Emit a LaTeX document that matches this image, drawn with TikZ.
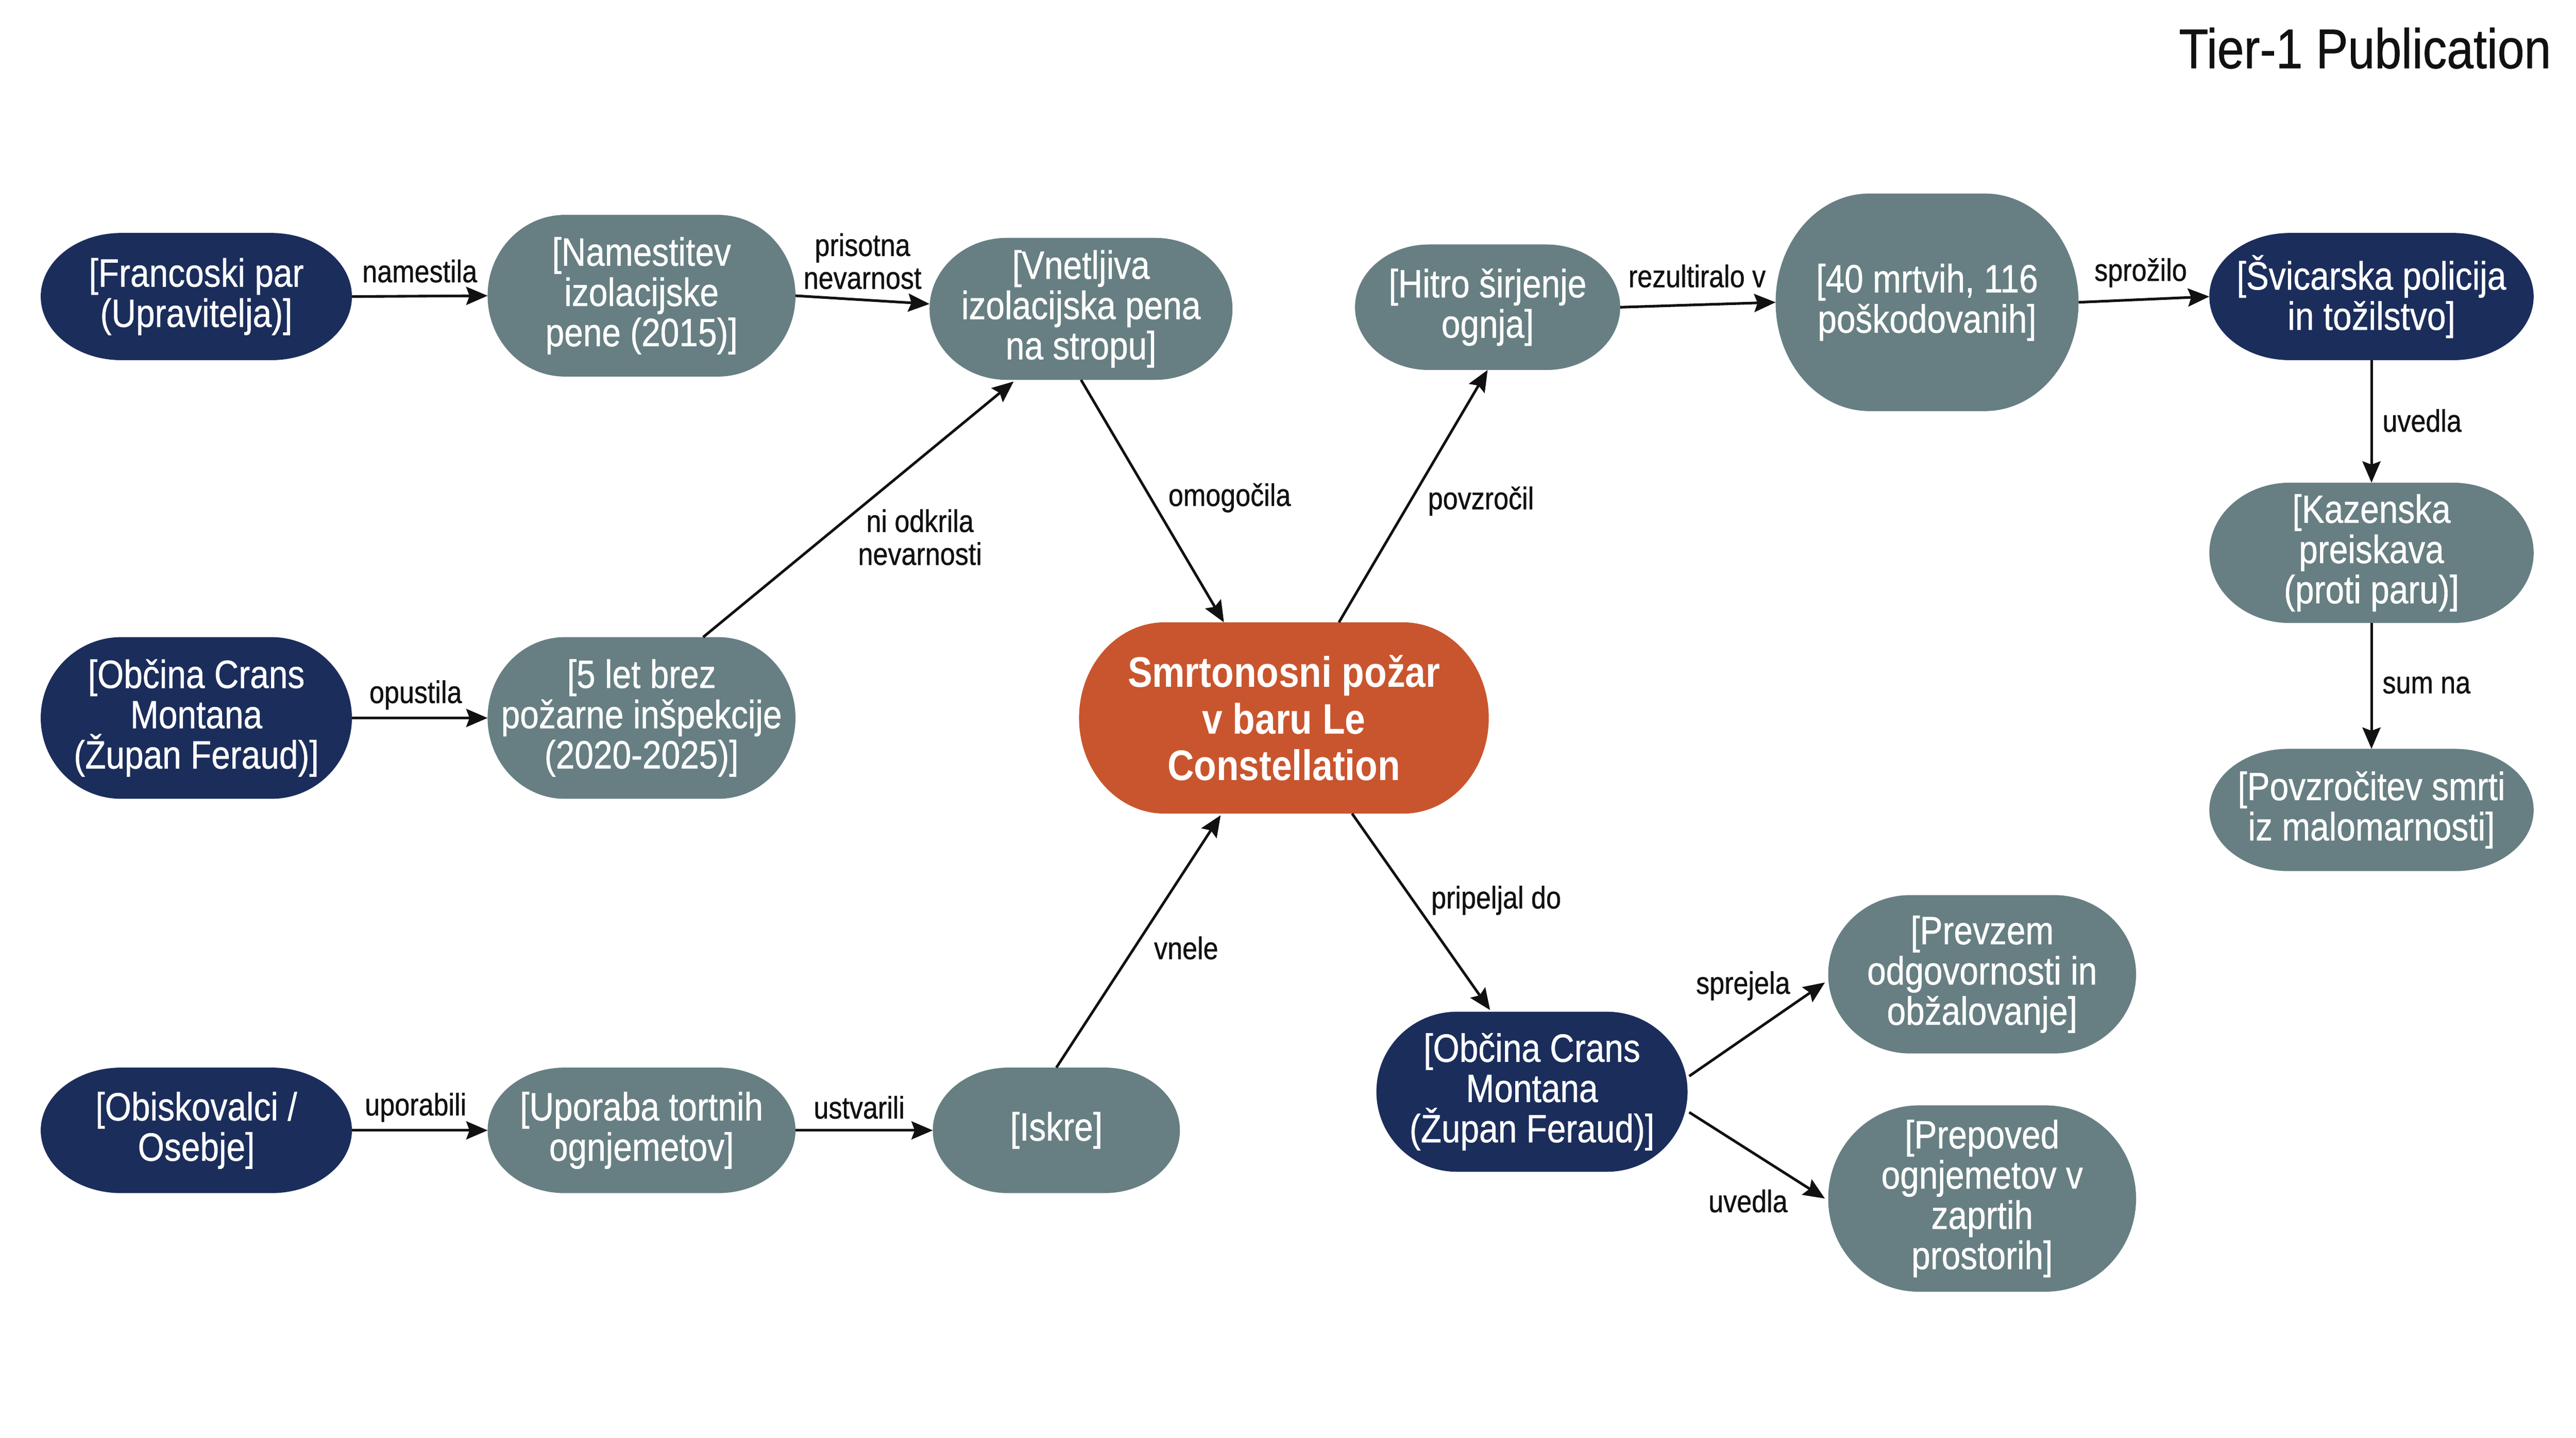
\documentclass[tikz,border=0pt]{standalone}
\usepackage{fontspec}
\setmainfont{Liberation Sans}[FakeStretch=0.86]
\newfontfamily\medfont{Liberation Sans}[FakeStretch=0.86, FakeBold=0.7]
\usetikzlibrary{arrows.meta,calc,backgrounds}
\definecolor{navy}{HTML}{1B2D5B}
\definecolor{slate}{HTML}{677F82}
\definecolor{fire}{HTML}{C9552E}
\definecolor{ink}{HTML}{111111}
\newcommand\blobfill[3]{%
\fill[#2] let \p1=(#1.north west), \p2=(#1.south east) in
 (\x1+#3,\y1) -- (\x2-#3,\y1)
 .. controls (\x2-0.448*#3,\y1) and (\x2,0.77615*\y1+0.22385*\y2) .. (\x2,0.5*\y1+0.5*\y2)
 .. controls (\x2,0.22385*\y1+0.77615*\y2) and (\x2-0.448*#3,\y2) .. (\x2-#3,\y2)
 -- (\x1+#3,\y2)
 .. controls (\x1+0.448*#3,\y2) and (\x1,0.22385*\y1+0.77615*\y2) .. (\x1,0.5*\y1+0.5*\y2)
 .. controls (\x1,0.77615*\y1+0.22385*\y2) and (\x1+0.448*#3,\y1) .. (\x1+#3,\y1) -- cycle;}
\tikzset{
  nd/.style 2 args={inner sep=0pt, align=center, text=white,
    font=\medfont\fontsize{24}{24.5}\selectfont, minimum width=#1, minimum height=#2},
  lbl/.style={inner sep=0pt, align=center, text=ink, font=\medfont\fontsize{19}{20}\selectfont},
  arr/.style={-{Stealth[length=13pt,width=11pt,inset=2pt]}, line width=1.6pt, draw=ink},
}
\begin{document}
\begin{tikzpicture}[x=1pt,y=-1pt]
\useasboundingbox (0,0) rectangle (1568,875.2);
% nodes
\node[nd={189pt}{77pt}] (fr) at (119.5,180.5) {[Francoski par\\(Upravitelja)]};
\node[nd={187pt}{98pt}] (nam) at (390.5,180) {[Namestitev\\izolacijske\\pene (2015)]};
\node[nd={184pt}{86pt}] (vn) at (658,188) {[Vnetljiva\\izolacijska pena\\na stropu]};
\node[nd={189pt}{98pt}] (ob1) at (119.5,437) {[Občina Crans\\Montana\\(Župan Feraud)]};
\node[nd={187pt}{98pt}] (pet) at (390.5,437) {[5 let brez\\požarne inšpekcije\\(2020-2025)]};
\node[nd={249pt}{116pt}, font=\bfseries\fontsize{26}{28.5}\selectfont] (cen) at (781.5,437) {Smrtonosni požar\\v baru Le\\Constellation};
\node[nd={189pt}{76pt}] (obi) at (119.5,688) {[Obiskovalci /\\Osebje]};
\node[nd={187pt}{76pt}] (upo) at (390.5,688) {[Uporaba tortnih\\ognjemetov]};
\node[nd={150pt}{76pt}] (isk) at (643,688) {[Iskre]};
\node[nd={161pt}{76pt}] (hit) at (905.5,187) {[Hitro širjenje\\ognja]};
\node[nd={184pt}{132pt}] (mrt) at (1173,184) {[40 mrtvih, 116\\poškodovanih]};
\node[nd={197pt}{77pt}] (svi) at (1443.5,180.5) {[Švicarska policija\\in tožilstvo]};
\node[nd={197pt}{85pt}] (kaz) at (1443.5,336.5) {[Kazenska\\preiskava\\(proti paru)]};
\node[nd={197pt}{74pt}] (pov) at (1443.5,493) {[Povzročitev smrti\\iz malomarnosti]};
\node[nd={189pt}{97pt}] (ob2) at (932.5,664.5) {[Občina Crans\\Montana\\(Župan Feraud)]};
\node[nd={187pt}{96pt}] (pre) at (1206.5,593) {[Prevzem\\odgovornosti in\\obžalovanje]};
\node[nd={187pt}{113pt}] (prp) at (1206.5,729.5) {[Prepoved\\ognjemetov v\\zaprtih\\prostorih]};
% title
\node[inner sep=0pt, anchor=base east, text=ink, font=\medfont\fontsize{34}{40}\selectfont] (title) at (1553,41.5) {Tier-1 Publication};
% shapes
\begin{scope}[on background layer]
\fill[white] (0,0) rectangle (1568,875.2);
\blobfill{fr}{navy}{49pt}
\blobfill{nam}{slate}{47pt}
\blobfill{vn}{slate}{47pt}
\blobfill{ob1}{navy}{49pt}
\blobfill{pet}{slate}{47pt}
\blobfill{cen}{fire}{52pt}
\blobfill{obi}{navy}{49pt}
\blobfill{upo}{slate}{47pt}
\blobfill{isk}{slate}{46pt}
\blobfill{hit}{slate}{45pt}
\blobfill{mrt}{slate}{57pt}
\blobfill{svi}{navy}{49pt}
\blobfill{kaz}{slate}{49pt}
\blobfill{pov}{slate}{48pt}
\blobfill{ob2}{navy}{49pt}
\blobfill{pre}{slate}{50pt}
\blobfill{prp}{slate}{55pt}
\end{scope}
% connectors
\draw[arr] (fr.east) -- (nam.west);
\draw[arr] (nam.east) -- ($(vn.west)+(0,-3)$);
\draw[arr] ($(pet.north)+(37.5,0)$) -- ($(vn.south)+(-41,1)$);
\draw[arr] (ob1.east) -- (pet.west);
\draw[arr] (vn.south) -- ($(cen.north)+(-36.5,0)$);
\draw[arr] (obi.east) -- (upo.west);
\draw[arr] (upo.east) -- (isk.west);
\draw[arr] (isk.north) -- ($(cen.south)+(-38.5,1)$);
\draw[arr] ($(cen.north)+(33.5,0)$) -- (hit.south);
\draw[arr] (hit.east) -- (mrt.west);
\draw[arr] (mrt.east) -- (svi.west);
\draw[arr] (svi.south) -- (kaz.north);
\draw[arr] (kaz.south) -- (pov.north);
\draw[arr] ($(cen.south)+(41.5,0)$) -- ($(ob2.north)+(-25.5,-1)$);
\draw[arr] ($(ob2.east)+(1,-9.5)$) -- ($(pre.west)+(-2,5)$);
\draw[arr] ($(ob2.east)+(1,12.5)$) -- ($(prp.west)+(-2,0)$);
% labels
\node[lbl] (l1) at (255.5,165) {namestila};
\node[lbl] (l2) at (525,159) {prisotna\\nevarnost};
\node[lbl] (l3) at (560,327) {ni odkrila\\nevarnosti};
\node[lbl] (l4) at (253,423) {opustila};
\node[lbl, anchor=west] (l5) at (711,303) {omogočila};
\node[lbl] (l6) at (253,674) {uporabili};
\node[lbl] (l7) at (523,674) {ustvarili};
\node[lbl] (l8) at (722,577) {vnele};
\node[lbl, anchor=west] (l9) at (869,305) {povzročil};
\node[lbl] (l10) at (1033,168) {rezultiralo v};
\node[lbl] (l11) at (1303,166) {sprožilo};
\node[lbl, anchor=west] (l12) at (1450,256) {uvedla};
\node[lbl, anchor=west] (l13) at (1450,417) {sum na};
\node[lbl, anchor=west] (l14) at (871,548) {pripeljal do};
\node[lbl] (l15) at (1061,600) {sprejela};
\node[lbl] (l16) at (1064,731) {uvedla};
\end{tikzpicture}
\end{document}
